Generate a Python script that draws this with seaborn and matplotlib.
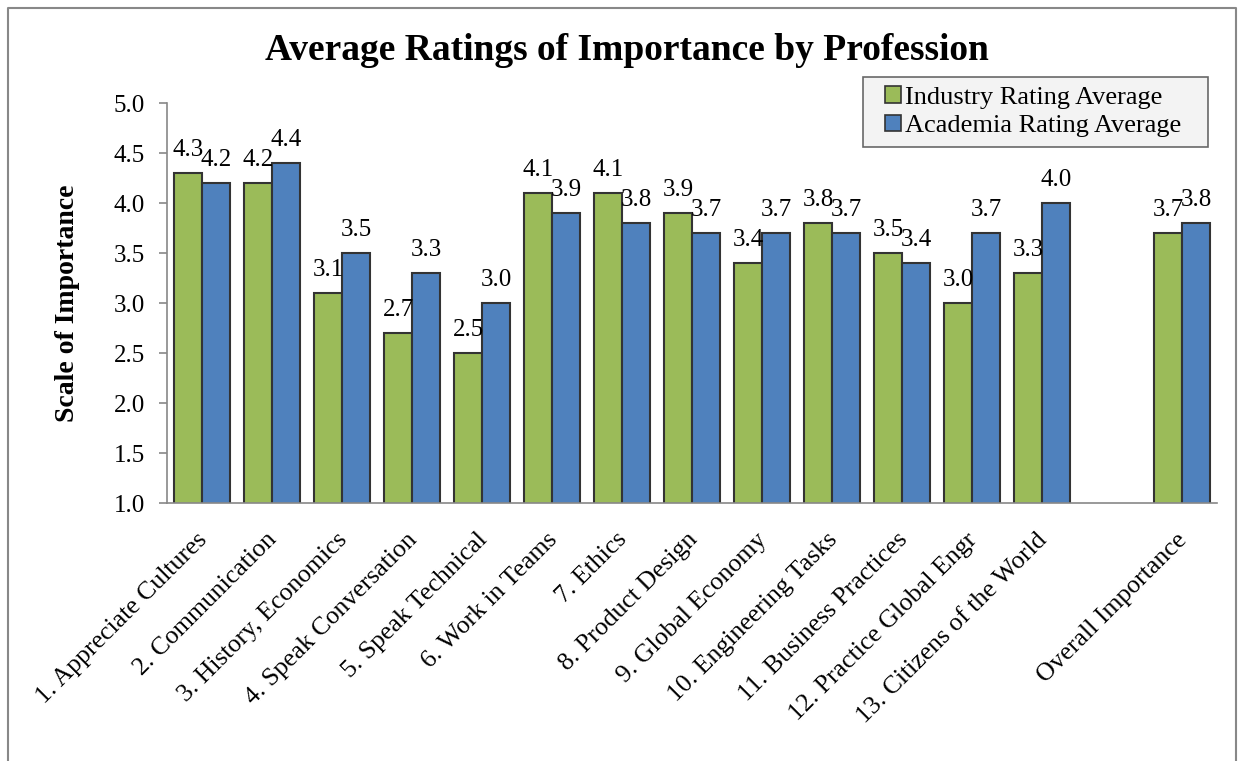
import numpy as np
import pandas as pd
import matplotlib
matplotlib.use('Agg')
import matplotlib.pyplot as plt
import matplotlib.transforms as mtransforms
import seaborn as sns
from matplotlib.lines import Line2D
from matplotlib.patches import Patch, Rectangle
from matplotlib.legend_handler import HandlerPatch

categories = ['1. Appreciate Cultures', '2. Communication', '3. History, Economics',
              '4. Speak Conversation', '5. Speak Technical', '6. Work in Teams',
              '7. Ethics', '8. Product Design', '9. Global Economy',
              '10. Engineering Tasks', '11. Business Practices', '12. Practice Global Engr',
              '13. Citizens of the World', ' ', 'Overall Importance']
industry = [4.3, 4.2, 3.1, 2.7, 2.5, 4.1, 4.1, 3.9, 3.4, 3.8, 3.5, 3.0, 3.3, np.nan, 3.7]
academia = [4.2, 4.4, 3.5, 3.3, 3.0, 3.9, 3.8, 3.7, 3.7, 3.7, 3.4, 3.7, 4.0, np.nan, 3.8]
series = ['Industry Rating Average', 'Academia Rating Average']
colors = ['#9BBB59', '#4F81BD']

df = pd.DataFrame({
    'cat': categories * 2,
    'value': industry + academia,
    'series': [series[0]] * len(categories) + [series[1]] * len(categories),
}).dropna()

sns.set_style('white')
plt.rcParams['font.family'] = ['Liberation Serif', 'DejaVu Serif']
plt.rcParams['text.color'] = 'black'
plt.rcParams['xtick.color'] = 'black'
plt.rcParams['ytick.color'] = 'black'
plt.rcParams['axes.labelcolor'] = 'black'

fig = plt.figure(figsize=(12.41, 7.61), dpi=100)
ax = fig.add_axes([167 / 1241, 1 - 503 / 761, 1050 / 1241, 400 / 761])

sns.barplot(data=df, x='cat', y='value', hue='series', order=categories,
            hue_order=series, palette=colors, saturation=1, width=0.8, ax=ax,
            edgecolor='#333333', linewidth=1.5, legend=False, errorbar=None)

for cont in ax.containers:
    ax.bar_label(cont, fmt='%.1f', fontsize=18, padding=9)

ax.set_ylim(1.0, 5.0)
ax.set_yticks(np.arange(1.0, 5.01, 0.5))
ax.set_yticklabels([f'{v:.1f}' for v in np.arange(1.0, 5.01, 0.5)], fontsize=18)
ax.set_xlim(-0.5, len(categories) - 0.5)
ax.set_xticks(range(len(categories)))
ax.set_xticklabels(categories, rotation=45, ha='right', rotation_mode='anchor', fontsize=18.5)
ax.set_xticks(np.arange(-0.5, len(categories), 1.0), minor=True)
ax.tick_params(axis='x', which='major', length=0, pad=12)
ax.tick_params(axis='x', which='minor', length=6, color='#888888', width=1.2)
ax.tick_params(axis='y', length=6, color='#888888', width=1.2, left=True, pad=10)
shift = mtransforms.ScaledTranslation(-6 / 100, -9 / 100, fig.dpi_scale_trans)
for lab in ax.get_xticklabels():
    lab.set_transform(lab.get_transform() + shift)
ax.set_xlabel('')
ax.set_ylabel('Scale of Importance', fontsize=20, fontweight='bold', labelpad=24)
for s in ['top', 'right']:
    ax.spines[s].set_visible(False)
for s in ['left', 'bottom']:
    ax.spines[s].set_color('#888888')
    ax.spines[s].set_linewidth(1.2)


def square_right(legend, orig_handle, xdescent, ydescent, width, height, fontsize):
    side = height * 1.0
    return Rectangle((width - side - xdescent, -ydescent), side, side)


handles = [Patch(facecolor=c, edgecolor='#333333', linewidth=1.2) for c in colors]
leg = fig.legend(handles, series, loc='upper left',
                 bbox_to_anchor=(863 / 1241, 1 - 146 / 761, 345 / 1241, 69 / 761),
                 mode='expand', fontsize=19, frameon=True, fancybox=False,
                 handlelength=1.1, handleheight=0.6, handletextpad=0.15,
                 labelspacing=0.22, borderpad=0.35, borderaxespad=0,
                 handler_map={Patch: HandlerPatch(patch_func=square_right)})
leg.get_frame().set_facecolor('#F0F0F0')
leg.get_frame().set_edgecolor('#444444')
leg.get_frame().set_linewidth(1.2)

fig.text(627 / 1241, 1 - 50 / 761, 'Average Ratings of Importance by Profession',
         ha='center', va='center', fontsize=27, fontweight='bold')

# outer chart frame
fx = [8 / 1241, 8 / 1241, 1236 / 1241, 1236 / 1241]
fy = [0, 1 - 8 / 761, 1 - 8 / 761, 0]
fig.add_artist(Line2D(fx, fy, transform=fig.transFigure, color='#888888', linewidth=1.5))

fig.savefig('out.png', dpi=100)
